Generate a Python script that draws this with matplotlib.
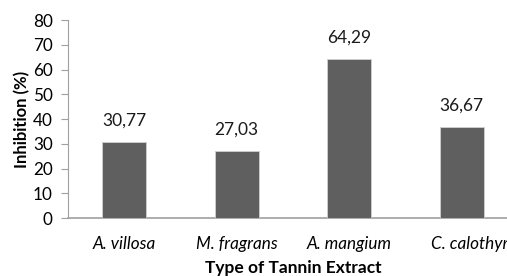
import matplotlib.pyplot as plt
import matplotlib.transforms as mtransforms

species = ["A. villosa", "M. fragrans", "A. mangium", "C. calothyrsus"]
inhibition = [30.77, 27.03, 64.29, 36.67]
value_labels = ["30,77", "27,03", "64,29", "36,67"]
y_ticks = [0, 10, 20, 30, 40, 50, 60, 70, 80]

plt.rcParams['font.family'] = ['Lato', 'DejaVu Sans']

fig = plt.figure(figsize=(5.07, 2.76), dpi=100)
# axes run past the right edge, so the last label is cut like in the original
ax = fig.add_axes([0.134, 0.210, 0.8876, 0.717])

x = range(len(species))
bars = ax.bar(x, inhibition, width=0.39, color="#5f5f5f",
              edgecolor="#d0d0d0", linewidth=0.6, zorder=3)

for xi, v, lab in zip(x, inhibition, value_labels):
    ax.text(xi, v + 5.5, lab, ha="center", va="bottom", fontsize=12.5, color="#1a1a1a")

ax.set_xlim(-0.5, 3.5)
ax.set_ylim(0, 80)
ax.set_yticks(y_ticks)
ax.set_xticks(list(x))
ax.set_xticklabels(species, fontsize=12.3, style="italic")
ax.tick_params(axis="y", labelsize=12.3, length=5, color="#a0a0a0", pad=6)
ax.tick_params(axis="x", length=0, pad=13)

# last label shifted left, as the chart tool did to keep it in the frame
last = ax.get_xticklabels()[-1]
last.set_ha("left")
last.set_transform(last.get_transform() + mtransforms.ScaledTranslation(-0.305, 0, fig.dpi_scale_trans))

for side in ["top", "right"]:
    ax.spines[side].set_visible(False)
ax.spines["left"].set_color("#a0a0a0")
ax.spines["bottom"].set_color("#a0a0a0")
ax.spines["bottom"].set_linewidth(1.2)

ax.set_ylabel("Inhibition (%)", fontsize=12, fontweight="bold", labelpad=2)
ax.set_xlabel("Type of Tannin Extract", fontsize=12.5, fontweight="bold", labelpad=6)

fig.savefig("out.png", dpi=100)
